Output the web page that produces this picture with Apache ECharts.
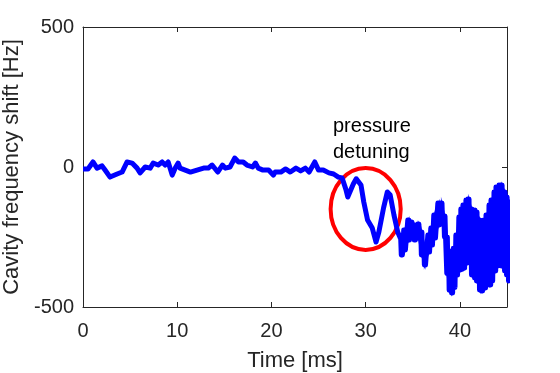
<!DOCTYPE html>
<html>
<head>
<meta charset="utf-8">
<script src="https://cdn.jsdelivr.net/npm/echarts@6/dist/echarts.min.js"></script>
<style>
  html, body { margin: 0; padding: 0; background: #fff; }
  #main { width: 560px; height: 373px; }
</style>
</head>
<body>
<div id="main"></div>
<script>
// 頻移曲線 (ms, Hz)
const timeMs = [0, 0.53, 1.06, 1.49, 2.02, 2.34, 2.87, 3.62, 4.15, 4.68, 5.21, 5.74, 6.06, 6.6, 7.13, 7.45, 7.98, 8.4, 8.72, 9.04,
  9.47, 9.79, 10.1, 10.3, 10.85, 11.4, 12.1, 12.8, 13.3, 13.7, 14.3, 14.8, 15.1, 15.6, 16.1, 16.5, 17.0, 17.4, 18.0, 18.3,
  18.6, 19.1, 19.7, 20.2, 20.4, 21.0, 21.5, 22.0, 22.6, 23.1, 23.6, 24.0, 24.6, 25.0, 25.5, 26.1, 26.6, 27.1, 27.5, 27.9,
  28.1, 28.3, 28.7, 29.0, 29.5, 29.8, 30.2, 30.7, 31.1, 31.4, 31.9, 32.3, 32.6, 33.0, 33.4];
const shiftHz = [-7, -7, 18, -4, 4, -11, -36, -25, -18, 18, 14, -4, -21, 0, -4, 14, 7, 18, 7, 18,
  -29, -4, 14, -4, -11, -18, -11, -4, -4, 7, -18, 7, -4, 0, 32, 18, 18, 7, 0, 14,
  -4, -11, -11, -29, -18, -18, -7, -18, -4, -14, -4, -18, 18, -11, -11, -21, -25, -36, -39, -80,
  -107, -107, -60, -42, -64, -125, -189, -218, -268, -232, -146, -89, -100, -171, -232];

// 34ms 之後的振盪: 上緣 / 下緣
const bandTime = [33.72, 34.04, 34.47, 34.79, 35.1, 35.53, 35.85, 36.17, 36.6, 36.91, 37.23, 37.66, 37.98,
  38.3, 38.55, 38.8, 39.05, 39.3, 39.57, 39.89, 40.1, 40.32, 40.64, 40.85, 41.17, 41.49, 41.7, 42.02, 42.23,
  42.55, 42.77, 43.09, 43.3, 43.62, 43.83, 44.15, 44.36, 44.68, 44.89, 45.1];
const bandHigh = [-257, -225, -189, -196, -207, -204, -232, -279, -243, -218, -171, -129, -129,
  -175, -250, -300, -320, -290, -243, -179, -150, -136, -118, -114, -150, -154, -161, -189, -207,
  -189, -171, -136, -118, -89, -71, -64, -64, -89, -107, -125];
const bandLow = [-314, -296, -261, -254, -261, -254, -314, -350, -304, -279, -254, -207, -196,
  -250, -380, -440, -450, -430, -386, -368, -365, -361, -343, -325, -386, -396, -407, -439, -443,
  -432, -421, -421, -407, -371, -354, -336, -354, -371, -386, -407];

// 標註: 橢圓 (中心 ms/Hz, 半徑 ms/Hz)
const ellipseData = [[30.0, -150, 3.72, 146]];
const noteText = 'pressure\ndetuning';

const xTicks = [0, 10, 20, 30, 40];
const yTicks = [-500, 0, 500];

// 主曲線 + 振盪帶 (每個時間點在上緣與下緣之間來回)
const lineData = timeMs.map((t, i) => [t, shiftHz[i]]);
bandTime.forEach((t, i) => {
  lineData.push([t, bandHigh[i]]);
  lineData.push([t + 0.06, bandLow[i]]);
  lineData.push([t + 0.12, bandHigh[i]]);
  lineData.push([t + 0.18, bandLow[i]]);
});

// 振盪帶填充用的資料 (x, 上緣, 下緣)
const bandData = bandTime.map((t, i) => [t + 0.09, bandHigh[i], bandLow[i]]);

const blue = '#0000ff';
const axisColor = '#262626';
const fontFamily = 'Liberation Sans, Arial, sans-serif';
const chart = echarts.init(document.getElementById('main'));

const boxAxis = {
  axisLine: { show: true, onZero: false, lineStyle: { color: axisColor, width: 1 } },
  axisTick: { show: true, inside: true, length: 5, lineStyle: { color: axisColor } },
  splitLine: { show: false }
};

const option = {
  animation: false,
  backgroundColor: '#fff',
  textStyle: { fontFamily: fontFamily },
  grid: { left: 83, right: 53, top: 27, bottom: 66, containLabel: false, outerBoundsMode: 'none' },
  xAxis: [
    {
      type: 'value', min: 0, max: 45, interval: 10,
      name: 'Time [ms]', nameLocation: 'middle', nameGap: 43,
      nameTextStyle: { color: axisColor, fontSize: 22 },
      ...boxAxis,
      axisLabel: { color: axisColor, fontSize: 20, margin: 14, showMaxLabel: false,
        formatter: v => (xTicks.includes(v) ? String(v) : '') }
    },
    {
      type: 'value', min: 0, max: 45, interval: 10, position: 'top',
      ...boxAxis,
      axisLabel: { show: false }
    }
  ],
  yAxis: [
    {
      type: 'value', min: -500, max: 500, interval: 500,
      name: 'Cavity frequency shift [Hz]', nameLocation: 'middle', nameGap: 49,
      nameTextStyle: { color: axisColor, fontSize: 22 },
      ...boxAxis,
      axisLabel: { color: axisColor, fontSize: 20, margin: 9,
        formatter: v => (yTicks.includes(v) ? String(v) : '') }
    },
    {
      type: 'value', min: -500, max: 500, interval: 500, position: 'right',
      ...boxAxis,
      axisLabel: { show: false }
    }
  ],
  series: [
    {
      // 紅色橢圓標註
      type: 'custom',
      data: ellipseData,
      z: 1,
      renderItem: (params, api) => {
        const c = api.coord([api.value(0), api.value(1)]);
        const s = api.size([api.value(2), api.value(3)]);
        return {
          type: 'ellipse',
          shape: { cx: c[0], cy: c[1], rx: s[0], ry: s[1] },
          style: { fill: 'none', stroke: '#ff0000', lineWidth: 4 }
        };
      }
    },
    {
      // 振盪帶的填充: 每段畫一個四邊形 (上緣 -> 下緣)
      type: 'custom',
      data: bandData,
      encode: { x: 0, y: [1, 2] },
      z: 2,
      clip: true,
      renderItem: (params, api) => {
        const i = params.dataIndex;
        if (i >= bandData.length - 1) return null;
        const next = bandData[i + 1];
        const pts = [
          api.coord([api.value(0), api.value(1)]),
          api.coord([next[0], next[1]]),
          api.coord([next[0], next[2]]),
          api.coord([api.value(0), api.value(2)])
        ];
        return {
          type: 'polygon',
          shape: { points: pts },
          style: { fill: blue, stroke: blue, lineWidth: 1.5 }
        };
      }
    },
    {
      type: 'line',
      data: lineData,
      z: 3,
      showSymbol: false,
      clip: true,
      lineStyle: { color: blue, width: 5, join: 'round' }
    }
  ],
  graphic: [
    {
      type: 'text', left: 333, top: 113, z: 10,
      style: { text: noteText, fontSize: 20, lineHeight: 26, fill: '#000', fontFamily: fontFamily }
    }
  ]
};

option && chart.setOption(option);
</script>
</body>
</html>
